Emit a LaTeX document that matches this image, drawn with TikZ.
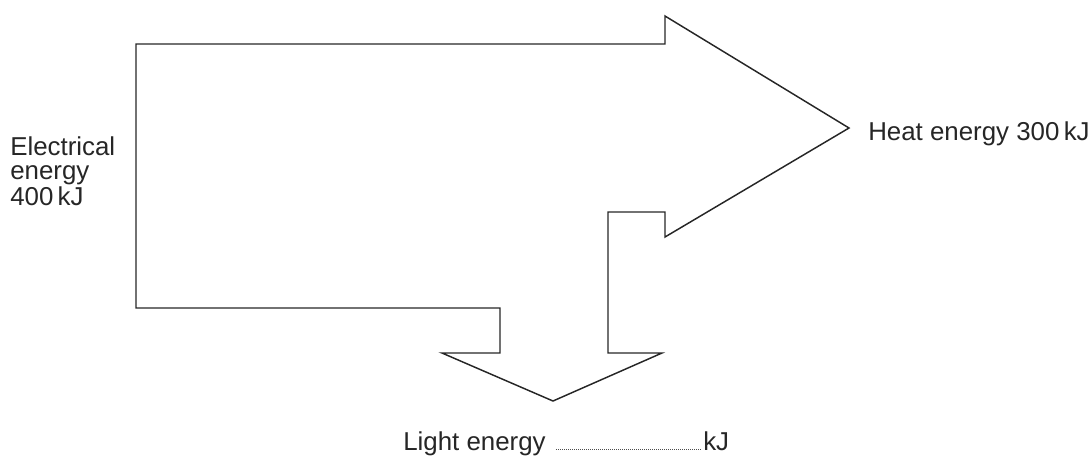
\documentclass[tikz,border=0pt]{standalone}
\usepackage{fontspec}
\setmainfont{Liberation Sans}
\begin{document}
\begin{tikzpicture}[x=0.75pt,y=-0.75pt,
  outline/.style={draw=black!85,line width=1.1pt,line join=miter},
  lbl/.style={inner sep=0pt,font=\fontsize{19.4}{18}\selectfont,text=black!85},
  dotline/.style={draw=black!70,line width=0.6pt,dash pattern=on 0.5pt off 1pt}]
\useasboundingbox (0,0) rectangle (1092,455);
% flow shape
\draw[outline] (136,44) -- (665,44) -- (665,16) -- (849,128) -- (665,237)
  -- (665,212) -- (608,212) -- (608,353) -- (662,353) -- (553,401)
  -- (442,353) -- (500,353) -- (500,308) -- (136,308) -- cycle;
% labels
\node[lbl,anchor=base west,align=left] (elec) at (10,205)
  {Electrical\\energy\\400\,kJ};
\node[lbl,anchor=base west] (heat) at (868,140) {Heat energy 300\,kJ};
\node[lbl,anchor=base west] (light) at (403,450) {Light energy};
\node[lbl,anchor=base west] (kj) at (703,450) {kJ};
\coordinate (dotA) at (556,449);
\coordinate (dotB) at (702,449);
\draw[dotline] (dotA) -- (dotB);
\end{tikzpicture}
\end{document}
